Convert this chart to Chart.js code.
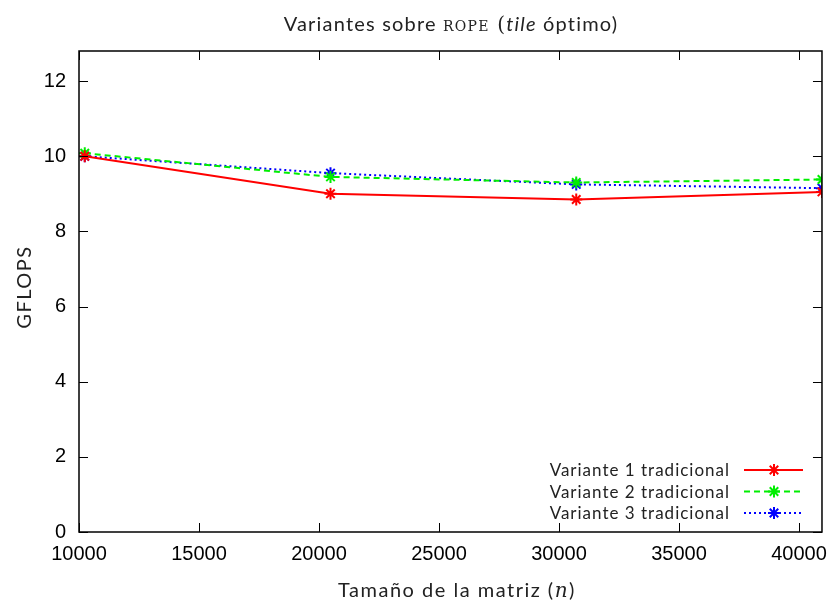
<!DOCTYPE html>
<html>
<head>
<meta charset="utf-8">
<script src="https://cdn.jsdelivr.net/npm/chart.js@4/dist/chart.umd.min.js"></script>
<style>
  html, body { margin: 0; padding: 0; background: #fff; }
  #wrap { width: 837px; height: 602px; }
</style>
</head>
<body>
<div id="wrap"><canvas id="gflopsChart" width="837" height="602"></canvas></div>
<script>
// matrix sizes (n) and GFLOPS per variant
const sizes = [10240, 20480, 30720, 40960];
const variante1 = [10.0, 9.0, 8.85, 9.05];
const variante2 = [10.08, 9.45, 9.30, 9.38];
const variante3 = [10.0, 9.55, 9.25, 9.15];
const seriesNames = ['Variante 1 tradicional', 'Variante 2 tradicional', 'Variante 3 tradicional'];
const xTicks = [10000, 15000, 20000, 25000, 30000, 35000, 40000];
const yTicks = [0, 2, 4, 6, 8, 10, 12];

const sansTex = "Lato, 'DejaVu Sans', sans-serif";
const tickFont = "'Liberation Sans', Arial, sans-serif";

function makeSet(label, values, color, dash) {
    return {
        label: label,
        data: sizes.map((n, i) => ({ x: n, y: values[i] })),
        borderColor: color,
        backgroundColor: color,
        borderWidth: 2,
        borderDash: dash,
        pointStyle: 'star',
        pointRadius: 6,
        pointBorderWidth: 2,
        pointBorderColor: color,
        tension: 0,
        fill: false
    };
}

// inward ticks on all four sides, gnuplot style
const frameTicks = {
    id: 'frameTicks',
    afterDatasetsDraw(chart) {
        const { ctx, chartArea: a, scales } = chart;
        ctx.save();
        ctx.strokeStyle = '#000';
        ctx.lineWidth = 1;
        ctx.beginPath();
        xTicks.forEach(v => {
            const px = Math.round(scales.x.getPixelForValue(v)) + 0.5;
            ctx.moveTo(px, a.bottom); ctx.lineTo(px, a.bottom - 9);
            ctx.moveTo(px, a.top); ctx.lineTo(px, a.top + 9);
        });
        yTicks.forEach(v => {
            const py = Math.round(scales.y.getPixelForValue(v)) + 0.5;
            ctx.moveTo(a.left, py); ctx.lineTo(a.left + 9, py);
            ctx.moveTo(a.right, py); ctx.lineTo(a.right - 9, py);
        });
        ctx.stroke();
        ctx.lineWidth = 1.5;
        ctx.strokeRect(a.left, a.top, a.right - a.left, a.bottom - a.top);
        ctx.restore();
    }
};

// draws a run of text pieces with their own fonts, centred at cx
function drawRuns(ctx, runs, cx, cy, spacing) {
    ctx.letterSpacing = spacing + 'px';
    let total = 0;
    runs.forEach(r => { ctx.font = r.font; r.w = ctx.measureText(r.text).width; total += r.w; });
    let x = cx - total / 2;
    ctx.textBaseline = 'alphabetic';
    ctx.textAlign = 'left';
    runs.forEach(r => { ctx.font = r.font; ctx.fillText(r.text, x, cy); x += r.w; });
    ctx.letterSpacing = '0px';
}

const texts = {
    id: 'texts',
    afterDraw(chart) {
        const { ctx } = chart;
        ctx.save();
        ctx.fillStyle = '#222';
        drawRuns(ctx, [
            { text: 'Variantes sobre ', font: "20px " + sansTex },
            { text: 'rope', font: "small-caps 20px 'DejaVu Serif', serif" },
            { text: ' (', font: "20px 'DejaVu Serif', serif" },
            { text: 'tile', font: "italic 20px " + sansTex },
            { text: ' óptimo)', font: "20px " + sansTex }
        ], 451, 31, 1.2);
        drawRuns(ctx, [
            { text: 'Tamaño de la matriz (', font: "20px " + sansTex },
            { text: 'n', font: "italic 20px 'DejaVu Serif', serif" },
            { text: ')', font: "20px " + sansTex }
        ], 457, 597, 1.5);
        ctx.save();
        ctx.translate(31, 287);
        ctx.rotate(-Math.PI / 2);
        drawRuns(ctx, [{ text: 'GFLOPS', font: "20px " + sansTex }], 0, 0, 1.5);
        ctx.restore();

        // legend: text right aligned, then line sample with marker
        const rowsY = [470, 491.5, 513];
        chart.data.datasets.forEach((ds, i) => {
            const y = rowsY[i];
            ctx.font = "17px " + sansTex;
            ctx.letterSpacing = '1px';
            ctx.textAlign = 'right';
            ctx.textBaseline = 'middle';
            ctx.fillStyle = '#222';
            ctx.fillText(ds.label, 730, y + 1);
            ctx.letterSpacing = '0px';
            ctx.strokeStyle = ds.borderColor;
            ctx.lineWidth = 2;
            ctx.setLineDash(ds.borderDash || []);
            ctx.beginPath();
            ctx.moveTo(744, y); ctx.lineTo(803, y);
            ctx.stroke();
            ctx.setLineDash([]);
            Chart.helpers.drawPoint(ctx, { pointStyle: 'star', radius: 6, borderWidth: 2 }, 774, y);
        });
        ctx.restore();
    }
};

new Chart(document.getElementById('gflopsChart'), {
    type: 'line',
    data: {
        datasets: [
            makeSet(seriesNames[0], variante1, '#ff0000', []),
            makeSet(seriesNames[1], variante2, '#00ee00', [6, 4]),
            makeSet(seriesNames[2], variante3, '#0000ff', [2, 3])
        ]
    },
    options: {
        responsive: false,
        animation: false,
        layout: { padding: { left: 0, top: 51, right: 8, bottom: 0 } },
        plugins: {
            legend: { display: false },
            tooltip: { enabled: false },
            title: { display: false }
        },
        scales: {
            x: {
                type: 'linear',
                min: 10000,
                max: 40960,
                afterFit(scale) { scale.height = 70; },
                afterBuildTicks(scale) { scale.ticks = xTicks.map(v => ({ value: v })); },
                grid: { display: false, drawTicks: false },
                border: { display: false },
                ticks: {
                    color: '#000',
                    font: { family: tickFont, size: 20 },
                    padding: 10,
                    maxRotation: 0,
                    callback: v => String(v)
                }
            },
            y: {
                min: 0,
                max: 12.8,
                afterFit(scale) { scale.width = 79; },
                afterBuildTicks(scale) { scale.ticks = yTicks.map(v => ({ value: v })); },
                grid: { display: false, drawTicks: false },
                border: { display: false },
                ticks: {
                    color: '#000',
                    font: { family: tickFont, size: 20 },
                    padding: 13,
                    callback: v => String(v)
                }
            }
        }
    },
    plugins: [frameTicks, texts]
});
</script>
</body>
</html>
